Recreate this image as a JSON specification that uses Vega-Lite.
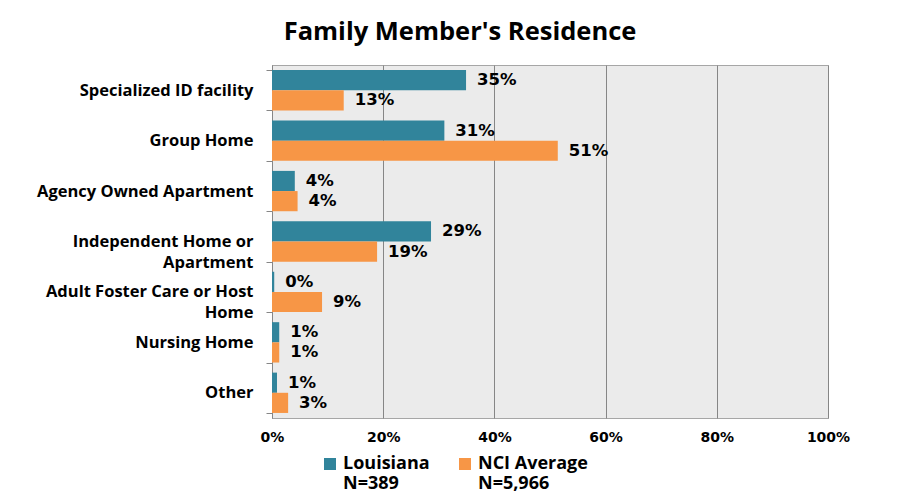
{
  "$schema": "https://vega.github.io/schema/vega-lite/v6.json",
  "width": 556,
  "height": 353,
  "autosize": {"type": "none"},
  "padding": {"left": 272, "top": 65, "right": 72, "bottom": 84},
  "background": "white",
  "title": {
    "text": "Family Member's Residence",
    "font": "Open Sans",
    "fontSize": 25.5,
    "fontWeight": "bold",
    "color": "#000000",
    "anchor": "middle",
    "dx": -90,
    "offset": 12
  },
  "data": {
    "values": [
      {"category": "Specialized ID facility", "series": "Louisiana", "value": 0.349, "label": "35%"},
      {"category": "Specialized ID facility", "series": "NCI Average", "value": 0.129, "label": "13%"},
      {"category": "Group Home", "series": "Louisiana", "value": 0.310, "label": "31%"},
      {"category": "Group Home", "series": "NCI Average", "value": 0.514, "label": "51%"},
      {"category": "Agency Owned Apartment", "series": "Louisiana", "value": 0.041, "label": "4%"},
      {"category": "Agency Owned Apartment", "series": "NCI Average", "value": 0.046, "label": "4%"},
      {"category": "Independent Home or Apartment", "series": "Louisiana", "value": 0.286, "label": "29%"},
      {"category": "Independent Home or Apartment", "series": "NCI Average", "value": 0.189, "label": "19%"},
      {"category": "Adult Foster Care or Host Home", "series": "Louisiana", "value": 0.004, "label": "0%"},
      {"category": "Adult Foster Care or Host Home", "series": "NCI Average", "value": 0.090, "label": "9%"},
      {"category": "Nursing Home", "series": "Louisiana", "value": 0.013, "label": "1%"},
      {"category": "Nursing Home", "series": "NCI Average", "value": 0.013, "label": "1%"},
      {"category": "Other", "series": "Louisiana", "value": 0.009, "label": "1%"},
      {"category": "Other", "series": "NCI Average", "value": 0.029, "label": "3%"}
    ]
  },
  "encoding": {
    "y": {
      "field": "category",
      "type": "nominal",
      "sort": ["Specialized ID facility", "Group Home", "Agency Owned Apartment", "Independent Home or Apartment", "Adult Foster Care or Host Home", "Nursing Home", "Other"],
      "scale": {"paddingInner": 0.2, "paddingOuter": 0.1},
      "axis": {
        "title": null,
        "tickBand": "extent",
        "tickSize": 6,
        "tickColor": "#868686",
        "domainColor": "#868686",
        "labelFont": "Open Sans",
        "labelFontSize": 16.5,
        "labelFontWeight": "bold",
        "labelColor": "#000000",
        "labelPadding": 13,
        "labelLimit": 300,
        "labelLineHeight": 21,
        "labelExpr": "datum.value == 'Independent Home or Apartment' ? ['Independent Home or', 'Apartment'] : datum.value == 'Adult Foster Care or Host Home' ? ['Adult Foster Care or Host', 'Home'] : datum.value"
      }
    },
    "yOffset": {"field": "series", "type": "nominal", "sort": ["Louisiana", "NCI Average"]},
    "x": {
      "field": "value",
      "type": "quantitative",
      "scale": {"domain": [0, 1]},
      "axis": {
        "title": null,
        "format": ".0%",
        "values": [0, 0.2, 0.4, 0.6, 0.8, 1],
        "domain": false,
        "ticks": false,
        "grid": true,
        "gridColor": "#868686",
        "gridWidth": 1,
        "labelFlush": false,
        "labelFont": "DejaVu Sans",
        "labelFontSize": 14,
        "labelFontWeight": "bold",
        "labelColor": "#000000",
        "labelPadding": 12
      }
    }
  },
  "layer": [
    {
      "mark": {"type": "bar"},
      "encoding": {
        "color": {
          "field": "series",
          "type": "nominal",
          "scale": {"domain": ["Louisiana", "NCI Average"], "range": ["#31849B", "#F79646"]},
          "legend": {
            "title": null,
            "orient": "none",
            "direction": "horizontal",
            "legendX": 49,
            "legendY": 390,
            "symbolType": "square",
            "symbolSize": 144,
            "symbolStrokeWidth": 0,
            "labelFont": "Open Sans",
            "labelFontSize": 18,
            "labelFontWeight": "bold",
            "labelColor": "#000000",
            "labelBaseline": "middle",
            "labelOffset": 4,
            "columnPadding": 26,
            "labelExpr": "datum.value == 'Louisiana' ? ['Louisiana', 'N=389'] : ['NCI Average', 'N=5,966']"
          }
        }
      }
    },
    {
      "mark": {"type": "text", "align": "left", "baseline": "middle", "dx": 11, "font": "DejaVu Sans", "fontSize": 16.5, "fontWeight": "bold", "color": "#000000"},
      "encoding": {"text": {"field": "label"}}
    }
  ],
  "config": {
    "view": {"fill": "#EBEBEB", "stroke": "#A6A6A6"}
  }
}
